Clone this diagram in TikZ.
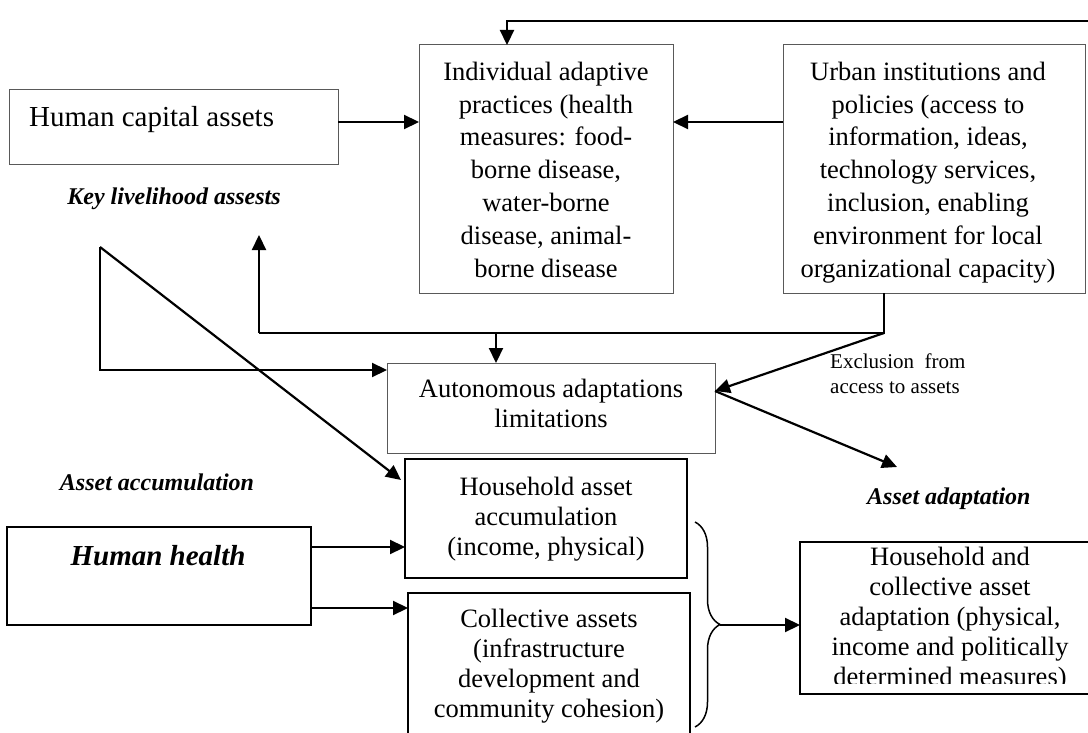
\documentclass[tikz,border=0pt]{standalone}
\usepackage{fontspec}
\setmainfont{Liberation Serif}
\usetikzlibrary{arrows.meta,calc,decorations.pathreplacing}
\newcommand\fstrut{\rule{0pt}{20pt}}
\begin{document}
\begin{tikzpicture}[x=1pt,y=-1pt,
  thinbox/.style={draw=black!65,line width=1pt,inner sep=0pt,outer sep=0pt,anchor=north west},
  thickbox/.style={draw=black,line width=2pt,inner sep=0pt,outer sep=0pt,anchor=north west},
  txt/.style={inner sep=0pt,align=center,anchor=north,font=\fontsize{26.5}{30}\selectfont},
  txtw/.style={inner sep=0pt,align=center,anchor=north,font=\fontsize{26.5}{32.8}\selectfont},
  ital/.style={inner sep=0pt,anchor=base,font=\fontsize{24}{28}\selectfont\bfseries\itshape},
  conn/.style={line width=2.2pt,-{Triangle[length=15pt,width=14pt]}},
  plain/.style={line width=2.2pt}]
\useasboundingbox (0,0) rectangle (1088,733);

% boxes
\node[thinbox,minimum width=329pt,minimum height=75pt] (hc) at (9,90) {};
\node[thinbox,minimum width=254pt,minimum height=248pt] (ind) at (419,45) {};
\node[thinbox,minimum width=302pt,minimum height=248pt] (urb) at (783,45) {};
\node[thinbox,minimum width=328pt,minimum height=90pt] (auto) at (387,363) {};
\node[thickbox,minimum width=282pt,minimum height=119pt] (hh) at (405,459) {};
\node[thickbox,minimum width=282pt,minimum height=160pt] (coll) at (408,593) {};
\node[thickbox,minimum width=304pt,minimum height=98pt] (hhealth) at (7,527) {};
\node[thickbox,minimum width=292pt,minimum height=152pt] (rb) at (800,542) {};

% texts
\node[inner sep=0pt,anchor=base west,font=\fontsize{29}{33}\selectfont] (hct) at (29,127) {Human capital assets};
\node[txtw] (indt) at (546,60) {\fstrut Individual adaptive\\practices (health\\measures: food-\\borne disease,\\water-borne\\disease, animal-\\borne disease};
\node[txtw] (urbt) at (928,60) {\fstrut Urban institutions and\\policies (access to\\information, ideas,\\technology services,\\inclusion, enabling\\environment for local\\organizational capacity)};
\node[txt] (autot) at (551,377) {\fstrut Autonomous adaptations\\limitations};
\node[txt] (hht) at (546,475) {\fstrut Household asset\\accumulation\\(income, physical)};
\node[txt] (collt) at (549,607) {\fstrut Collective assets\\(infrastructure\\development and\\community cohesion)};
\begin{scope}
\clip (800,542) rectangle (1090,683);
\node[txt] (rbt) at (950,545) {\fstrut Household and\\collective asset\\adaptation (physical,\\income and politically\\determined measures)};
\end{scope}
\node[inner sep=0pt,anchor=base,font=\fontsize{29}{33}\selectfont\bfseries\itshape] (hht2) at (158,565) {Human health};
\node[ital] (kla) at (174,205) {Key livelihood assests};
\node[ital] (aac) at (157,490) {Asset accumulation};
\node[ital,anchor=base west] (aad) at (867,504) {Asset adaptation};
\node[inner sep=0pt,anchor=base west,align=left,font=\fontsize{21}{25}\selectfont] (exc) at (830,393) {Exclusion\ \ from\\access to assets};

% connectors
\coordinate (fbR) at (1090,21);
\draw[conn] (fbR) -| ($(ind.north west)+(88,0)$);
\draw[conn] ([yshift=5.5pt]hc.east) coordinate (a1) -- (a1 -| ind.west);
\draw[conn] (urb.west |- a1) -- (ind.east |- a1);
\coordinate (j1) at (884,333);
\coordinate (j2) at (259,333);
\coordinate (j3) at (496,333);
\coordinate (kl) at (259,235);
\draw[plain] (urb.south -| j1) -- (j1) -- (j2);
\draw[conn] (j2) -- (kl);
\draw[conn] (j3) -- (j3 |- auto.north);
\draw[conn] (j1) -- ([yshift=-28pt]auto.north east);
\coordinate (t1) at (100,247);
\coordinate (t2) at (100,370);
\draw[conn] (t1) -- (t2) -- (t2 -| auto.west);
\draw[conn] (t1) -- ([xshift=-4pt,yshift=-21pt]hh.north west);
\coordinate (ex) at (897,467);
\draw[conn] ([yshift=-28pt]auto.north east) -- (ex);
\draw[conn] ([yshift=-20pt]hhealth.north east) coordinate (b1) -- (b1 -| hh.west);
\draw[conn] ([yshift=-81pt]hhealth.north east) coordinate (b2) -- (b2 -| coll.west);
\draw[line width=1.5pt,decorate,decoration={brace,amplitude=25pt}] (695,522) -- (695,727);
\coordinate (bt) at (720,625);
\draw[conn] (bt) -- (bt -| rb.west);
\end{tikzpicture}
\end{document}
